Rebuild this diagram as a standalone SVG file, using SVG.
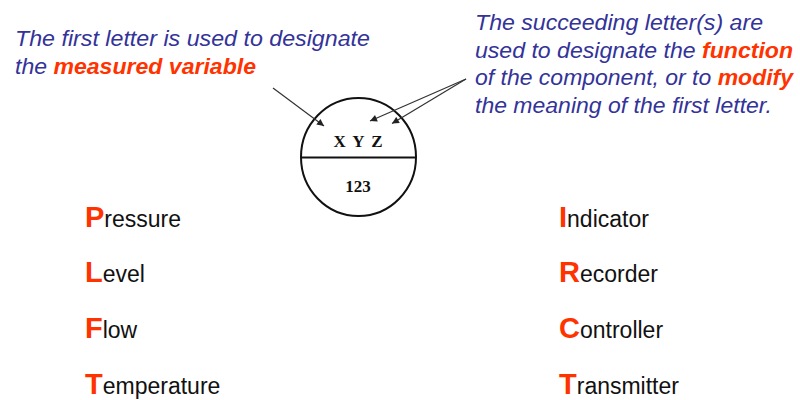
<svg xmlns="http://www.w3.org/2000/svg" width="800" height="400" viewBox="0 0 800 400">
<defs>
<marker id="ah" viewBox="0 0 10 10" refX="10" refY="5" markerWidth="9" markerHeight="7" markerUnits="userSpaceOnUse" orient="auto">
<path d="M0,0 L10,5 L0,10 z" fill="#222"/>
</marker>
<style>
.note{font-family:"Liberation Sans",Arial,sans-serif;font-style:italic;font-size:22px;fill:#333399}
.hl{fill:#ff3300;font-weight:bold}
.item{font-family:"Liberation Sans",Arial,sans-serif;font-size:23px;fill:#111}
.cap{fill:#ff3300;font-weight:bold;font-size:29px}
.tag{font-family:"Liberation Serif","Times New Roman",serif;font-weight:bold;font-size:17px;fill:#111;text-anchor:middle}
.conn{stroke:#333;stroke-width:1.2;fill:none;marker-end:url(#ah)}
</style>
</defs>
<rect width="800" height="400" fill="#fff"/>
<g id="note-left">
<text class="note" x="15" y="46" textLength="355" lengthAdjust="spacingAndGlyphs">The first letter is used to designate</text>
<text class="note" x="15" y="74" textLength="241" lengthAdjust="spacingAndGlyphs">the <tspan class="hl">measured variable</tspan></text>
</g>
<g id="note-right">
<text class="note" x="475" y="30" textLength="288" lengthAdjust="spacingAndGlyphs">The succeeding letter(s) are</text>
<text class="note" x="475" y="57.5" textLength="318" lengthAdjust="spacingAndGlyphs">used to designate the <tspan class="hl">function</tspan></text>
<text class="note" x="475" y="85" textLength="318" lengthAdjust="spacingAndGlyphs">of the component, or to <tspan class="hl">modify</tspan></text>
<text class="note" x="475" y="113" textLength="297" lengthAdjust="spacingAndGlyphs">the meaning of the first letter.</text>
</g>
<g id="instrument">
<ellipse cx="358.5" cy="157" rx="57.5" ry="59" fill="#fff" stroke="#111" stroke-width="2"/>
<line x1="301" y1="157.5" x2="416" y2="157.5" stroke="#111" stroke-width="2"/>
<text class="tag" x="358" y="147" word-spacing="3">X Y Z</text>
<text class="tag" x="358" y="191.5">123</text>
</g>
<g id="connectors">
<line class="conn" x1="273" y1="88" x2="324" y2="126"/>
<line class="conn" x1="466" y1="79" x2="370" y2="121"/>
<line class="conn" x1="466" y1="79" x2="392" y2="123.5"/>
</g>
<g id="list-variables">
<text class="item" x="85" y="226.5"><tspan class="cap">P</tspan>ressure</text>
<text class="item" x="85" y="282.3"><tspan class="cap">L</tspan>evel</text>
<text class="item" x="85" y="338"><tspan class="cap">F</tspan>low</text>
<text class="item" x="85" y="394"><tspan class="cap">T</tspan>emperature</text>
</g>
<g id="list-functions">
<text class="item" x="559" y="226.5"><tspan class="cap">I</tspan>ndicator</text>
<text class="item" x="559" y="282.3"><tspan class="cap">R</tspan>ecorder</text>
<text class="item" x="559" y="338"><tspan class="cap">C</tspan>ontroller</text>
<text class="item" x="559" y="394"><tspan class="cap">T</tspan>ransmitter</text>
</g>
</svg>
